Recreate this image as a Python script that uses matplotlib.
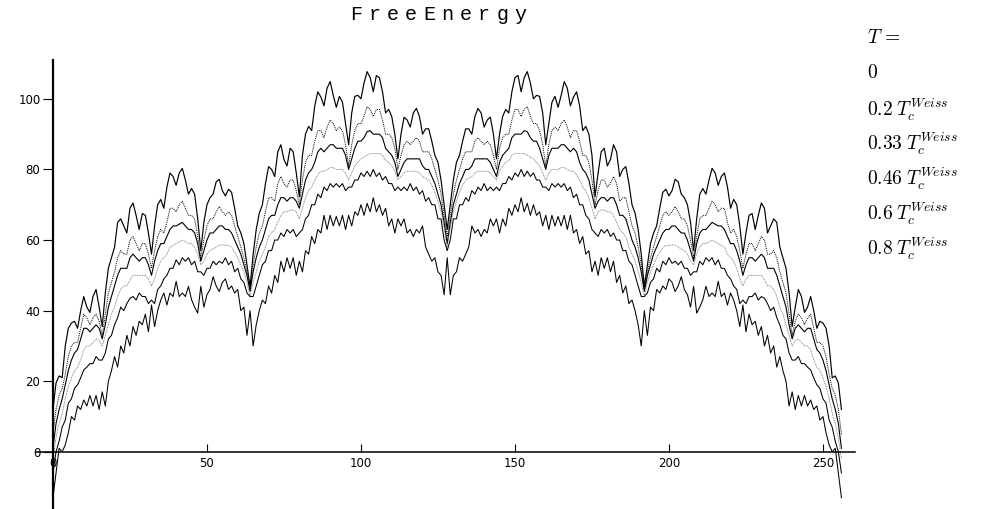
import matplotlib
matplotlib.use("Agg")
import matplotlib.pyplot as plt
import numpy as np

plt.rcParams['mathtext.fontset'] = 'cm'

# free energy vs n (0..256), one list per temperature
f_t0 = [12, 19.5, 21.5, 21, 30, 35, 36.5, 37, 35, 40, 44, 41, 39.5, 44, 46, 41, 35.5,
        45, 52, 55, 58, 65, 66, 64, 62, 69, 70.5, 67, 63, 67.5, 67, 62, 56,
        64, 70, 71.5, 69, 75, 79, 78, 75.5, 79, 80.3, 77, 73, 74.6, 73, 66, 57,
        65, 70, 72, 73, 76.5, 77.2, 74, 72.5, 74.4, 73.5, 69, 64, 62, 59, 53, 46.8,
        56, 63, 67.6, 70, 76, 80.8, 80, 78, 85, 87, 82.8, 81, 86, 85, 79, 72.3,
        84, 90, 92.2, 91, 98, 102, 100.5, 98, 103, 104.9, 101, 97.6, 100.7, 99, 93, 87,
        96, 100.7, 101, 100, 104.5, 107.7, 106, 102, 106.6, 106, 102, 96, 97, 95, 90, 83,
        90, 94.8, 94, 92, 96, 97.3, 95, 90, 91.5, 91.5, 88, 84, 82, 77, 70, 63,
        70, 77, 82, 84, 88, 91.5, 91.5, 90, 95, 97.3, 96, 92, 94, 94.8, 90,
        83, 90, 95, 97, 96, 102, 106, 106.6, 102, 106, 107.7, 104.5, 100, 101, 100.7, 96,
        87, 93, 99, 100.7, 97.6, 101, 104.9, 103, 98, 100.5, 102, 98, 91, 92.2, 90, 84,
        72.3, 79, 85, 86, 81, 82.8, 87, 85, 78, 80, 80.8, 76, 70, 67.6, 63, 56,
        46.8, 53, 59, 62, 64, 69, 73.5, 74.4, 72.5, 74, 77.2, 76.5, 73, 72, 70, 65,
        57, 66, 73, 74.6, 73, 77, 80.3, 79, 75.5, 78, 79, 75, 69, 71.5, 70, 64,
        56, 62, 67, 67.5, 63, 67, 70.5, 69, 62, 64, 66, 65, 58, 55, 52, 45,
        35.5, 41, 46, 44, 39.5, 41, 44, 40, 35, 37, 36.5, 35, 30, 21, 21.5, 19.5, 12]

f_t02 = [5, 12, 16, 18, 22, 27, 30, 31, 31, 35, 39, 38, 36, 38, 39, 37, 33,
         39, 45, 48, 51, 55, 57, 56, 56, 60, 61, 59, 57, 59, 59, 56, 52,
         57, 61, 63, 62, 65, 69, 69, 68, 70, 71, 69, 67, 67, 66, 61, 55,
         60, 64, 66, 66, 68, 69.5, 68, 67, 68, 67, 64, 61, 58, 55, 51, 46,
         53, 58, 62, 64, 68, 72, 72, 71, 76, 78, 76, 75, 77, 77, 74, 70,
         77, 82, 84, 84, 88, 91, 91, 89, 92, 94, 93, 91, 92, 91, 87, 81,
         87, 91, 93, 93, 95, 97.8, 97, 95, 97, 97, 94, 90, 90, 89, 86, 80,
         84, 87, 88, 87, 88, 89, 88, 85, 85, 85, 83, 80, 77, 73, 67, 61,
         67, 73, 77, 80, 83, 85, 85, 85, 88, 89, 88, 87, 88, 87, 84,
         80, 86, 89, 90, 90, 94, 97, 97, 95, 97, 97.8, 95, 93, 93, 91, 87,
         81, 87, 91, 92, 91, 93, 94, 92, 89, 91, 91, 88, 84, 84, 82, 77,
         70, 74, 77, 77, 75, 76, 78, 76, 71, 72, 72, 68, 64, 62, 58, 53,
         46, 51, 55, 58, 61, 64, 67, 68, 67, 68, 69.5, 68, 66, 66, 64, 60,
         55, 61, 66, 67, 67, 69, 71, 70, 68, 69, 69, 65, 62, 63, 61, 57,
         52, 56, 59, 59, 57, 59, 61, 60, 56, 56, 57, 55, 51, 48, 45, 39,
         33, 37, 39, 38, 36, 38, 39, 35, 31, 31, 30, 27, 22, 18, 16, 12, 5]

f_t033 = [1, 8, 12, 15, 19, 23, 26, 28, 29, 32, 35, 35, 34, 35, 36, 35, 32,
          36, 41, 44, 47, 50, 52, 52, 52, 55, 56, 55, 54, 55, 55, 53, 50,
          54, 57, 59, 59, 61, 63, 64, 64, 64.5, 65, 64, 63, 63, 62, 59, 54,
          57, 60, 62, 62, 63, 64, 64, 63, 63, 62, 60, 58, 56, 53, 50, 45.5,
          51, 55, 58, 60, 63, 66, 67, 67, 70, 72, 72, 71, 72, 72, 71, 69,
          73, 77, 79, 80, 82, 85, 86, 85, 86, 87, 87, 86, 86, 86, 84, 80,
          83, 86, 88, 88, 89, 90.7, 91, 90, 90, 90, 89, 86, 85, 84, 82, 78,
          80, 82, 83, 83, 83, 83, 83, 81, 80, 80, 78, 76, 73, 70, 65, 59,
          65, 70, 73, 76, 78, 80, 80, 81, 83, 83, 83, 83, 83, 82, 80,
          78, 82, 84, 85, 86, 89, 90, 90, 90, 91, 90.7, 89, 88, 88, 86, 83,
          80, 84, 86, 86, 86, 87, 87, 86, 85, 86, 85, 82, 80, 79, 77, 73,
          69, 71, 72, 72, 71, 72, 72, 70, 67, 67, 66, 63, 60, 58, 55, 51,
          45.5, 50, 53, 56, 58, 60, 62, 63, 63, 64, 64, 63, 62, 62, 60, 57,
          54, 59, 62, 63, 63, 64, 65, 64.5, 64, 64, 63, 61, 59, 59, 57, 54,
          50, 53, 55, 55, 54, 55, 56, 55, 52, 52, 52, 50, 47, 44, 41, 36,
          32, 35, 36, 35, 34, 35, 35, 32, 29, 28, 26, 23, 19, 15, 12, 8, 1]

f_t046 = [-2, 4, 8, 11, 15, 18.5, 21, 23, 24, 26, 28.9, 30, 30, 31, 32, 31.5, 30,
          33, 36, 39, 41, 44, 46, 47, 47, 48.7, 50, 50, 50, 50, 50, 49, 47,
          49, 52, 54, 55, 56, 58, 58.5, 59, 59.5, 60, 59.5, 59, 59, 58, 56, 53,
          54, 56, 57, 57.5, 58, 58.6, 58.6, 58.5, 58.5, 58, 56.5, 55, 53, 51, 48, 44,
          48, 51, 54, 56, 58, 61, 62, 63, 65, 67, 68, 68, 68.5, 68.5, 68, 66,
          69, 72, 74, 75, 77, 78.5, 79.5, 79.5, 80, 80.5, 80.5, 80, 80, 80, 79, 77,
          79, 81, 82, 83, 83.5, 84.1, 84.5, 84.5, 84.5, 84.5, 84, 82.5, 82, 81, 79.5, 77,
          78, 79, 79.5, 79.5, 79.5, 79.5, 79, 78, 77.5, 77, 75.5, 73.5, 71, 68, 63.5, 58,
          63.5, 68, 71, 73.5, 75.5, 77, 77.5, 78, 79, 79.5, 79.5, 79.5, 79.5, 79, 78,
          77, 79.5, 81, 82, 82.5, 84, 84.5, 84.5, 84.5, 84.5, 84.1, 83.5, 83, 82, 81, 79,
          77, 79, 80, 80, 80, 80.5, 80.5, 80, 79.5, 79.5, 78.5, 77, 75, 74, 72, 69,
          66, 68, 68.5, 68.5, 68, 68, 67, 65, 63, 62, 61, 58, 56, 54, 51, 48,
          44, 48, 51, 53, 55, 56.5, 58, 58.5, 58.5, 58.6, 58.6, 58, 57.5, 57, 56, 54,
          53, 56, 58, 59, 59, 59.5, 60, 59.5, 59, 58.5, 58, 56, 55, 54, 52, 49,
          47, 49, 50, 50, 50, 50, 50, 48.7, 47, 47, 46, 44, 41, 39, 36, 33,
          30, 31.5, 32, 31, 30, 30, 28.9, 26, 24, 23, 21, 18.5, 15, 11, 8, 4, -2]

f_t06 = [-6, 0, 3, 7, 9, 13.8, 15, 18, 19, 21, 23.2, 24, 25, 25, 27, 26, 26,
         28, 32, 33, 36, 38, 41, 40, 42, 43.5, 44, 43, 45, 44, 44, 42, 43,
         42, 46, 47, 49, 50, 52, 52, 54.4, 53, 55, 54, 55, 53, 54, 51, 51,
         50, 52, 52, 54, 53, 54, 53.4, 55, 53, 54, 51, 52, 49, 48, 45, 44,
         44, 47, 50, 53, 54, 57, 57, 60, 60, 62, 61, 63, 62, 63, 61, 62,
         63, 66, 67, 70, 70, 73, 72, 75, 74, 76, 75, 76, 75, 76, 74, 75,
         75, 77, 77, 79, 78, 79.5, 78, 80, 78, 79, 77, 78, 76, 76, 74, 75,
         74, 75, 74, 76, 74, 75, 73, 74, 71, 72, 70, 70, 66, 66, 60, 57,
         60, 66, 66, 70, 70, 72, 71, 74, 73, 75, 74, 76, 74, 75, 74,
         75, 74, 76, 76, 78, 77, 79, 78, 80, 78, 79.5, 78, 79, 77, 77, 75,
         75, 74, 76, 75, 76, 75, 76, 74, 75, 72, 73, 70, 70, 67, 66, 63,
         62, 61, 63, 62, 63, 61, 62, 60, 60, 57, 57, 54, 53, 50, 47, 44,
         44, 45, 48, 49, 52, 51, 54, 53, 55, 53.4, 54, 53, 54, 52, 52, 50,
         51, 51, 54, 53, 55, 54, 55, 53, 54.4, 52, 52, 50, 49, 47, 46, 42,
         43, 42, 44, 44, 45, 43, 44, 43.5, 42, 40, 41, 38, 36, 33, 32, 28,
         26, 26, 27, 25, 25, 24, 23.2, 21, 19, 18, 15, 13.8, 9, 7, 3, 0, -6]

f_t08 = [-13, -6, 1, 0, 2, 5.4, 10, 9, 13, 12, 14.7, 13, 16, 13, 16, 12, 17,
         13, 20, 23, 27, 24, 30, 28, 33, 30, 35.5, 33, 37, 36, 39, 34, 41.6,
         35.5, 40, 43, 45, 41.6, 45, 44, 48.3, 44, 45, 44, 46.9, 43.1, 41, 39.3, 46.9,
         41, 44.5, 46, 49.6, 47, 45.4, 48, 49, 46, 47, 45, 46, 40, 41, 33, 40,
         30, 36, 40, 43, 42, 47, 45, 50, 48, 54, 51, 55, 52, 55, 50, 54,
         51, 57, 56, 61, 59, 63, 62, 67, 63, 67, 64, 66.7, 64, 67, 63, 67,
         64, 68, 67, 70, 67, 70.4, 68, 72, 68, 70, 67, 69, 64, 66, 62, 66,
         64, 66, 62, 63, 61, 63, 62, 64, 58, 56, 54, 55, 51, 50, 44.5, 55,
         44.5, 50, 51, 55, 54, 56, 58, 64, 62, 63, 61, 63, 62, 66, 64,
         66, 62, 66, 64, 69, 67, 70, 68, 72, 68, 70.4, 67, 70, 67, 68, 64,
         67, 63, 67, 64, 66.7, 64, 67, 63, 67, 62, 63, 59, 61, 56, 57, 51,
         54, 50, 55, 52, 55, 51, 54, 48, 50, 45, 47, 42, 43, 40, 36, 30,
         40, 33, 41, 40, 46, 45, 47, 46, 49, 48, 45.4, 47, 49.6, 46, 44.5, 41,
         46.9, 39.3, 41, 43.1, 46.9, 44, 45, 44, 48.3, 44, 45, 41.6, 45, 43, 40, 35.5,
         41.6, 34, 39, 36, 37, 33, 35.5, 30, 33, 28, 30, 24, 27, 23, 20, 13,
         17, 12, 16, 13, 16, 13, 14.7, 12, 13, 9, 10, 5.4, 2, 0, 1, -6, -13]

curves = [f_t0, f_t02, f_t033, f_t046, f_t06, f_t08]
labels = [r'$0$', r'$0.2\;T_c^{Weiss}$', r'$0.33\;T_c^{Weiss}$',
          r'$0.46\;T_c^{Weiss}$', r'$0.6\;T_c^{Weiss}$', r'$0.8\;T_c^{Weiss}$']
for c in curves:
    assert len(c) == 257, len(c)

n = np.arange(257)

fig = plt.figure(figsize=(10.07, 5.09), dpi=100)
ax = fig.add_axes([36/1007, 1 - 508/509, (855 - 36)/1007, (508 - 60)/509])

styles = [dict(color='k', lw=0.85, ls='-'),
          dict(color='k', lw=0.7, ls=(0, (1, 1))),
          dict(color='k', lw=0.8, ls='-'),
          dict(color='0.4', lw=0.6, ls=(0, (1, 1))),
          dict(color='k', lw=0.75, ls='-'),
          dict(color='k', lw=0.75, ls='-')]
for c, st in zip(curves, styles):
    ax.plot(n, c, **st)

ax.set_xlim(-5.5, 260.4)
ax.set_ylim(-15.9, 111)
ax.spines['left'].set_position(('data', 0))
ax.spines['bottom'].set_position(('data', 0))
ax.spines['top'].set_visible(False)
ax.spines['right'].set_visible(False)
ax.spines['left'].set_linewidth(1.6)
ax.spines['bottom'].set_linewidth(1.1)
ax.set_xticks([0, 50, 100, 150, 200, 250])
ax.set_yticks([0, 20, 40, 60, 80, 100])
ax.tick_params(axis='x', direction='in', length=6, width=0.8, labelsize=8.5, pad=4)
ax.tick_params(axis='y', direction='out', length=7, width=0.8, labelsize=8.5, pad=2)
for lab in ax.get_xticklabels() + ax.get_yticklabels():
    lab.set_fontfamily('DejaVu Sans')

# title, drawn letter by letter to copy its wide spacing
title = 'FreeEnergy'
for i, ch in enumerate(title):
    fig.text((356 + 18.3 * i)/1007, 1 - 15/509, ch, family='Liberation Mono',
             fontsize=14.5, ha='center', va='center')

fig.text(867/1007, 1 - 43/509, r'$T\,=$', fontsize=14, ha='left', va='baseline')
baselines = [78, 116, 150, 185, 220, 255]
for lab, yb in zip(labels, baselines):
    fig.text(867/1007, 1 - yb/509, lab, fontsize=14, ha='left', va='baseline')

fig.savefig('out.png', dpi=100)
